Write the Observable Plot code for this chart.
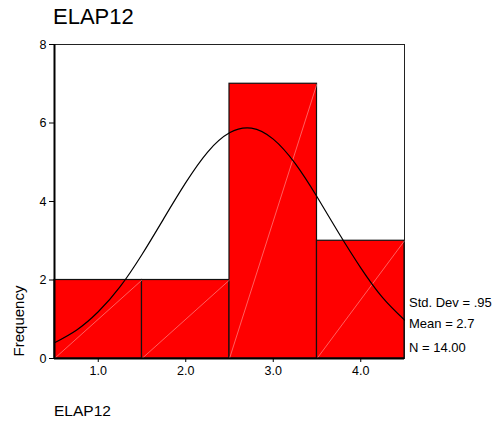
<!DOCTYPE html>
<html>
<head>
<meta charset="utf-8">
<script src="https://cdn.jsdelivr.net/npm/d3@7"></script>
<script src="https://cdn.jsdelivr.net/npm/@observablehq/plot@0.6"></script>
<style>
  body { margin: 0; background: #fff; }
  svg { font-family: "Liberation Sans", Arial, sans-serif; }
</style>
</head>
<body>
<div id="chart"></div>
<script>
// Histogram bins (ELAP12)
const binStart = [0.5, 1.5, 2.5, 3.5];
const binEnd   = [1.5, 2.5, 3.5, 4.5];
const counts   = [2, 2, 7, 3];

// Fitted normal curve
const curveX = [0.5, 0.75, 1.0, 1.25, 1.5, 1.75, 2.0, 2.25, 2.5, 2.75, 3.0, 3.25, 3.5, 3.75, 4.0, 4.25, 4.5];
const curveY = [0.40, 0.72, 1.19, 1.83, 2.65, 3.57, 4.48, 5.26, 5.75, 5.87, 5.59, 4.97, 4.12, 3.19, 2.31, 1.55, 0.98];

const xTicks = [1, 2, 3, 4];
const yTicks = [0, 2, 4, 6, 8];
const statLabels = ["Std. Dev = .95", "Mean = 2.7", "N = 14.00"];
const title = "ELAP12";
const xTitle = "ELAP12";
const yTitle = "Frequency";

const bins = binStart.map((s, i) => ({x1: s, x2: binEnd[i], y: counts[i]}));
const curve = curveX.map((x, i) => ({x, y: curveY[i]}));

const W = 499, H = 422;
const mL = 54, mR = 95, mT = 44, mB = 64;

const plot = Plot.plot({
  width: W, height: H,
  marginLeft: mL, marginRight: mR, marginTop: mT, marginBottom: mB,
  style: {fontFamily: "Liberation Sans, Arial, sans-serif", fontSize: "12px", color: "#000", background: "#fff"},
  x: {domain: [0.5, 4.5], label: null},
  y: {domain: [0, 8], label: null},
  marks: [
    Plot.frame({stroke: "#222", strokeWidth: 1}),
    Plot.rect(bins, {x1: "x1", x2: "x2", y1: 0, y2: "y", fill: "#ff0000", stroke: "#111", strokeWidth: 1.2}),
    Plot.link(bins, {x1: "x1", y1: () => 0, x2: "x2", y2: "y", stroke: "#ff9f9f", strokeWidth: 0.6}),
    Plot.line(curve, {x: "x", y: "y", stroke: "#000", strokeWidth: 1.2, curve: "natural"}),
    Plot.axisX({ticks: xTicks, tickFormat: d => d.toFixed(1), tickSize: 4, tickPadding: 4, fontSize: 12.5, label: null}),
    Plot.axisY({ticks: yTicks, tickSize: 5, tickPadding: 3, fontSize: 12.5, label: null}),
    Plot.ruleY([0], {stroke: "#000", strokeWidth: 2}),
    Plot.ruleX([0.5], {stroke: "#000", strokeWidth: 2})
  ]
});

const svg = d3.select(plot);
const add = (x, y, size, t, anchor = "start") =>
  svg.append("text").attr("x", x).attr("y", y).attr("font-size", size)
     .attr("text-anchor", anchor).attr("fill", "#000").text(t);
add(53, 24, 22, title);
add(54, 416, 15.5, xTitle);
svg.append("text").attr("transform", "translate(24,321) rotate(-90)").attr("text-anchor", "middle")
   .attr("font-size", 15).attr("fill", "#000").text(yTitle);
const statY = [307, 328, 352];
statLabels.forEach((t, i) => add(409, statY[i], 13, t));

document.getElementById("chart").appendChild(plot);
</script>
</body>
</html>
